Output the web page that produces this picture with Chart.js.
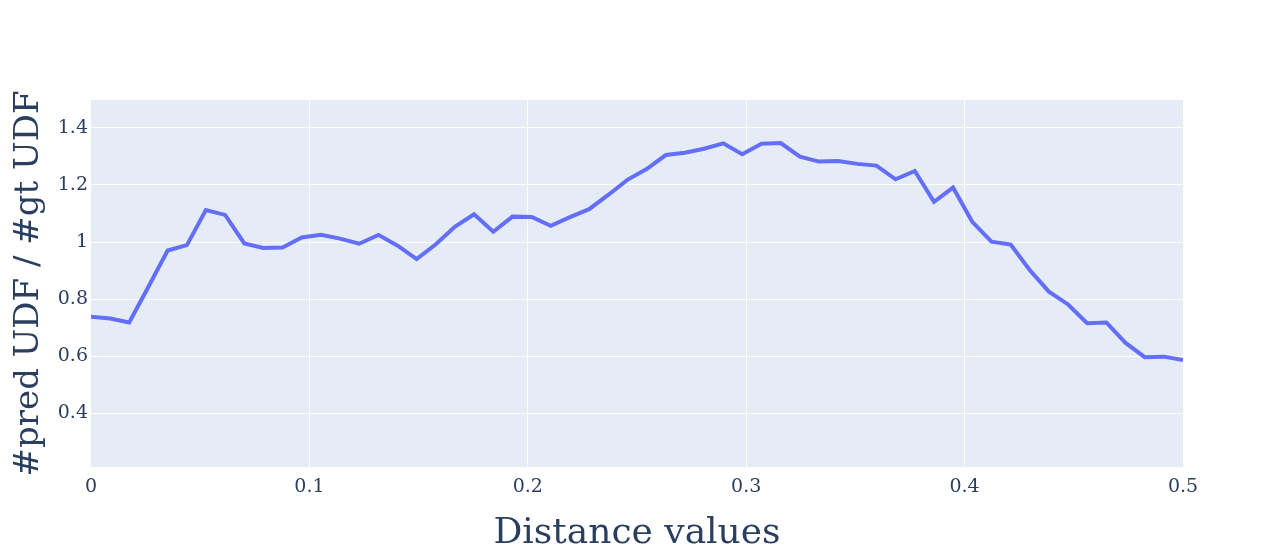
<!DOCTYPE html>
<html>
<head>
<meta charset="utf-8">
<script src="https://cdn.jsdelivr.net/npm/chart.js@4"></script>
<style>
  html, body { margin: 0; padding: 0; background: #fff; }
  #wrap { width: 1264px; height: 557px; }
</style>
</head>
<body>
<div id="wrap"><canvas id="myChart" width="1264" height="557"></canvas></div>
<script>
// distance values (x) and ratio #pred UDF / #gt UDF (y)
const distances = [0, 0.0088, 0.0175, 0.0263, 0.0351, 0.0439, 0.0526, 0.0614, 0.0702, 0.0789,
  0.0877, 0.0965, 0.1053, 0.1140, 0.1228, 0.1316, 0.1404, 0.1491, 0.1579, 0.1667,
  0.1754, 0.1842, 0.1930, 0.2018, 0.2105, 0.2193, 0.2281, 0.2368, 0.2456, 0.2544,
  0.2632, 0.2719, 0.2807, 0.2895, 0.2982, 0.3070, 0.3158, 0.3246, 0.3333, 0.3421,
  0.3509, 0.3596, 0.3684, 0.3772, 0.3860, 0.3947, 0.4035, 0.4123, 0.4211, 0.4298,
  0.4386, 0.4474, 0.4561, 0.4649, 0.4737, 0.4825, 0.4912, 0.5];
const ratios = [0.738, 0.732, 0.718, 0.843, 0.970, 0.989, 1.112, 1.095, 0.995, 0.979,
  0.981, 1.016, 1.025, 1.012, 0.994, 1.025, 0.987, 0.940, 0.992, 1.054,
  1.097, 1.036, 1.089, 1.088, 1.057, 1.087, 1.115, 1.165, 1.218, 1.256,
  1.305, 1.313, 1.327, 1.346, 1.308, 1.345, 1.347, 1.299, 1.282, 1.284,
  1.274, 1.268, 1.220, 1.249, 1.141, 1.191, 1.071, 1.001, 0.991, 0.902,
  0.826, 0.781, 0.715, 0.718, 0.646, 0.596, 0.598, 0.586];
const xTicks = [0, 0.1, 0.2, 0.3, 0.4, 0.5];
const yTicks = [0.4, 0.6, 0.8, 1, 1.2, 1.4];

const textColor = '#2a3f5f';
const fontFamily = '"DejaVu Serif", serif';

const plotBg = {
  id: 'plotBg',
  beforeDraw(chart) {
    const {ctx, chartArea: a} = chart;
    ctx.save();
    ctx.fillStyle = '#E5ECF6';
    ctx.fillRect(a.left, a.top, a.right - a.left, a.bottom - a.top);
    ctx.restore();
  }
};

const fmt = v => String(Number(v.toFixed(2)));

new Chart(document.getElementById('myChart'), {
  type: 'line',
  data: {
    datasets: [{
      data: distances.map((d, i) => ({x: d, y: ratios[i]})),
      borderColor: '#636EFA',
      borderWidth: 4,
      pointRadius: 0,
      fill: false,
      tension: 0
    }]
  },
  options: {
    responsive: false,
    animation: false,
    layout: { padding: { top: 100, right: 81, bottom: 0, left: 0 } },
    plugins: { legend: { display: false }, tooltip: { enabled: false } },
    scales: {
      x: {
        type: 'linear',
        min: 0,
        max: 0.5,
        afterFit(s) { s.height = 90; },
        afterBuildTicks(s) { s.ticks = xTicks.map(v => ({value: v})); },
        border: { display: false },
        grid: {
          drawTicks: false,
          lineWidth: 1,
          color: c => (c.tick && (c.tick.value === 0 || c.tick.value === 0.5)) ? 'rgba(0,0,0,0)' : '#ffffff'
        },
        ticks: {
          padding: 9,
          color: textColor,
          font: { family: fontFamily, size: 19 },
          maxRotation: 0,
          callback: v => fmt(v)
        },
        title: {
          display: true,
          text: 'Distance values',
          color: textColor,
          font: { family: fontFamily, size: 36 },
          padding: { top: 0, bottom: 2 }
        }
      },
      y: {
        min: 0.211,
        max: 1.498,
        afterFit(s) { s.width = 91; },
        afterBuildTicks(s) { s.ticks = yTicks.map(v => ({value: v})); },
        border: { display: false },
        grid: { drawTicks: false, color: '#ffffff', lineWidth: 1 },
        ticks: {
          padding: 3,
          color: textColor,
          font: { family: fontFamily, size: 19 },
          callback: v => fmt(v)
        },
        title: {
          display: true,
          text: '#pred UDF / #gt UDF',
          color: textColor,
          font: { family: fontFamily, size: 34 },
          padding: { top: 9, bottom: 0 }
        }
      }
    }
  },
  plugins: [plotBg]
});
</script>
</body>
</html>
